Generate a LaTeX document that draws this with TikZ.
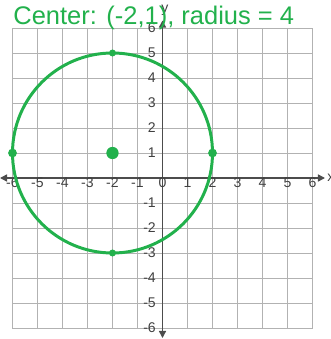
\documentclass[tikz,border=0pt]{standalone}
\usepackage{fontspec}
\setmainfont{Liberation Sans}
\usepackage{tikz}
\usetikzlibrary{arrows.meta}
\definecolor{penGreen}{RGB}{34,177,76}

\begin{document}
\begin{tikzpicture}[x=0.5cm,y=0.5cm]

% --- STYLES ---
\tikzset{
  gridline/.style={draw=black!30, line width=0.5pt},
  axisline/.style={draw=black!70, line width=0.8pt,
                   {Triangle[length=4pt,width=4pt]}-{Triangle[length=4pt,width=4pt]}},
  ticklabel/.style={font=\fontsize{8}{9}\selectfont, text=black!75, inner sep=0.5pt},
  penline/.style={draw=penGreen, line width=1.7pt},
  pendot/.style={circle, fill=penGreen, inner sep=0pt, minimum size=#1},
  pentext/.style={font=\fontsize{14.5}{17}\selectfont, text=penGreen, inner sep=0pt},
}

% ================= FRAME =================
\useasboundingbox (-6.5,-6.44) rectangle (6.74,7.12);

% ================= GRID =================
\foreach \k in {-6,...,6} {
    \draw[gridline] (\k,-6) -- (\k,6);
    \draw[gridline] (-6,\k) -- (6,\k);
}

% ================= AXES =================
\coordinate (xlo) at (-6.5,0);
\coordinate (xhi) at (6.5,0);
\coordinate (ylo) at (0,-6.4);
\coordinate (yhi) at (0,6.3);
\draw[axisline] (xlo) -- (xhi);
\draw[axisline] (ylo) -- (yhi);
\node[ticklabel, anchor=west] (xname) at (6.55,0) {x};
\node[ticklabel, anchor=south] (yname) at (0.1,6.45) {y};

% ================= TICK LABELS =================
\foreach \k [count=\i] in {-6,...,6} {
    \node[ticklabel] (xt\i) at (\k,-0.2) {\k};
}
\foreach \k [count=\i] in {-6,...,-1,1,2,...,6} {
    \node[ticklabel, anchor=east] (yt\i) at (-0.22,\k) {\k};
}

% ================= CIRCLE =================
\coordinate (ctr) at (-2,1);
\draw[penline] (ctr) circle (4);

\node[pendot=7pt] (cdot) at (ctr) {};
\node[pendot=5pt] (pleft)  at (-6,1) {};
\node[pendot=5pt] (pright) at (2,1) {};
\node[pendot=4pt] (ptop)   at (-2,5) {};
\node[pendot=4pt] (pbot)   at (-2,-3) {};

% ================= NOTE =================
\node[pentext, anchor=base] (note) at (-0.35,6.15) {Center: (-2,1), radius = 4};

\end{tikzpicture}
\end{document}
